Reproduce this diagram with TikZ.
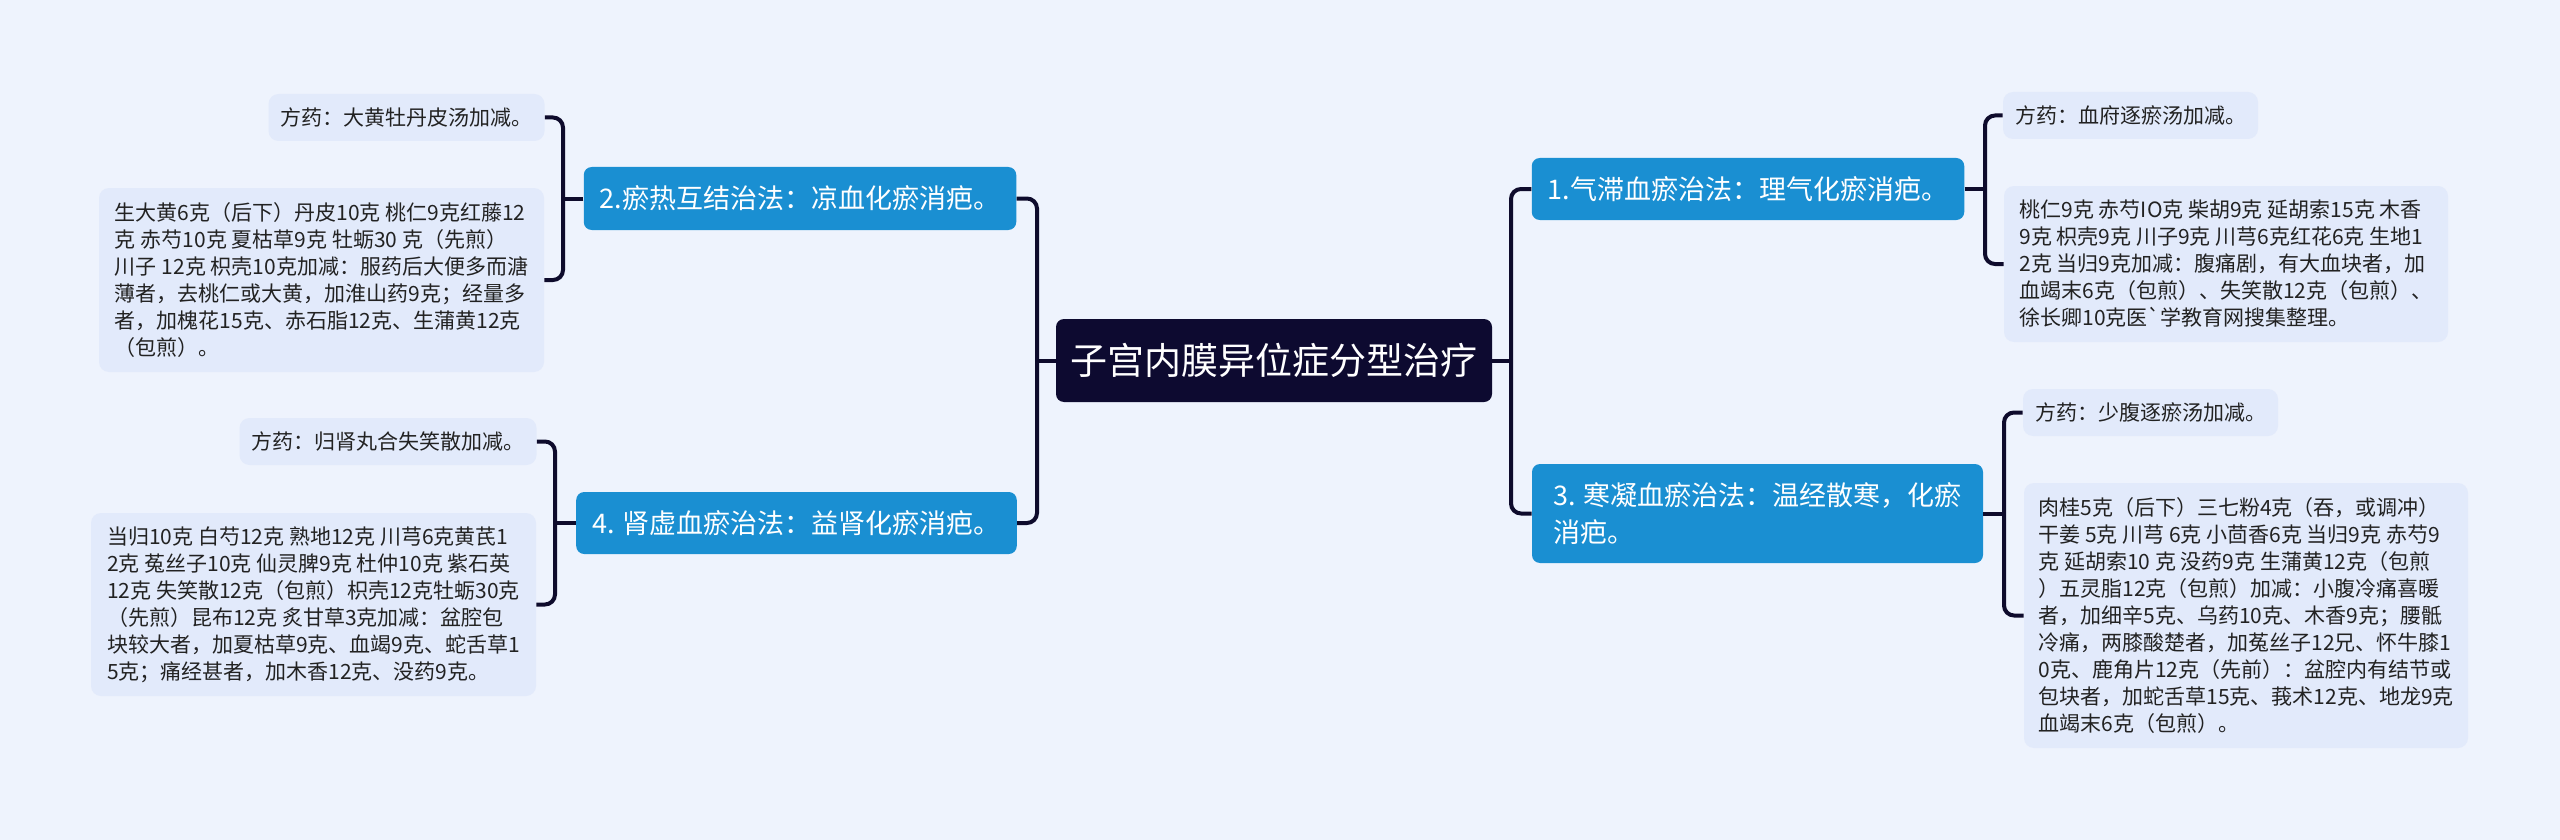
\documentclass[tikz,border=0pt]{standalone}
\usepackage{fontspec}
\setmainfont{Noto Sans CJK SC}
\definecolor{hintergrund}{HTML}{EEF3FD}
\definecolor{wurzelfarbe}{HTML}{0D0A30}
\definecolor{zweigfarbe}{HTML}{1A8FD2}
\definecolor{blattfarbe}{HTML}{E2EAFB}
\definecolor{linienfarbe}{HTML}{0E0B2C}
\definecolor{textfarbe}{HTML}{222222}
\tikzset{
	wurzelbox/.style={fill=wurzelfarbe, text=white, rounded corners=4pt, inner sep=0pt,
		font=\fontsize{18.5}{22}\selectfont},
	zweigbox/.style={fill=zweigfarbe, text=white, rounded corners=4pt, inner xsep=8pt,
		inner ysep=0pt, align=left, font=\fontsize{13.5}{18.5}\selectfont},
	blattbox/.style={fill=blattfarbe, text=textfarbe, rounded corners=5pt, inner xsep=6pt,
		inner ysep=0pt, align=left, font=\fontsize{10.5}{13.5}\selectfont},
	verbindung/.style={draw=linienfarbe, line width=2pt, rounded corners=5pt}
}
\begin{document}
\begin{tikzpicture}[x=0.5pt, y=-0.5pt]
	% Hintergrund
	\fill[hintergrund] (0,0) rectangle (2560,840);
	\useasboundingbox (0,0) rectangle (2560,840);

	% Wurzel
	\node[wurzelbox, minimum width=218pt, minimum height=41.5pt] (wurzel) at (1274,360.5)
		{子宫内膜异位症分型治疗};

	% Zweige
	\node[zweigbox, minimum width=216pt, minimum height=31.5pt] (z2) at (800,198.5)
		{2.瘀热互结治法：凉血化瘀消疤。};
	\node[zweigbox, minimum width=219.5pt, minimum height=31pt] (z4) at (796.5,523)
		{4. 肾虚血瘀治法：益肾化瘀消疤。};
	\node[zweigbox, minimum width=216pt, minimum height=31pt] (z1) at (1748,189)
		{1.气滞血瘀治法：理气化瘀消疤。};
	\node[zweigbox, minimum width=225.5pt, minimum height=49.5pt] (z3) at (1757.5,513.5)
		{3. 寒凝血瘀治法：温经散寒，化瘀\\消疤。};

	% Blaetter links
	\node[blattbox, minimum width=137.5pt, minimum height=23.5pt] (b2a) at (406.5,117.5)
		{方药：大黄牡丹皮汤加减。};
	\node[blattbox, minimum width=222.5pt, minimum height=92pt] (b2b) at (321.5,280)
		{生大黄6克（后下）丹皮10克 桃仁9克红藤12\\
		克 赤芍10克 夏枯草9克 牡蛎30 克（先煎）\\
		川子 12克 枳壳10克加减：服药后大便多而溏\\
		薄者，去桃仁或大黄，加淮山药9克；经量多\\
		者，加槐花15克、赤石脂12克、生蒲黄12克\\
		（包煎）。};
	\node[blattbox, minimum width=148pt, minimum height=23.5pt] (b4a) at (388,441.5)
		{方药：归肾丸合失笑散加减。};
	\node[blattbox, minimum width=222.5pt, minimum height=91.5pt] (b4b) at (313.5,604.5)
		{当归10克 白芍12克 熟地12克 川芎6克黄芪1\\
		2克 菟丝子10克 仙灵脾9克 杜仲10克 紫石英\\
		12克 失笑散12克（包煎）枳壳12克牡蛎30克\\
		（先煎）昆布12克 炙甘草3克加减：盆腔包\\
		块较大者，加夏枯草9克、血竭9克、蛇舌草1\\
		5克；痛经甚者，加木香12克、没药9克。};

	% Blaetter rechts
	\node[blattbox, minimum width=126.5pt, minimum height=23.5pt] (b1a) at (2130.5,115.5)
		{方药：血府逐瘀汤加减。};
	\node[blattbox, minimum width=222pt, minimum height=78pt] (b1b) at (2226,264)
		{桃仁9克 赤芍IO克 柴胡9克 延胡索15克 木香\\
		9克 枳壳9克 川子9克 川芎6克红花6克 生地1\\
		2克 当归9克加减：腹痛剧，有大血块者，加\\
		血竭末6克（包煎）、失笑散12克（包煎）、\\
		徐长卿10克医\textasciigrave{}学教育网搜集整理。};
	\node[blattbox, minimum width=126.5pt, minimum height=23.5pt] (b3a) at (2150.5,412.5)
		{方药：少腹逐瘀汤加减。};
	\node[blattbox, minimum width=222pt, minimum height=132.5pt] (b3b) at (2246,615.5)
		{肉桂5克（后下）三七粉4克（吞，或调冲）\\
		干姜 5克 川芎 6克 小茴香6克 当归9克 赤芍9\\
		克 延胡索10 克 没药9克 生蒲黄12克（包煎\\
		）五灵脂12克（包煎）加减：小腹冷痛喜暖\\
		者，加细辛5克、乌药10克、木香9克；腰骶\\
		冷痛，两膝酸楚者，加菟丝子12兄、怀牛膝1\\
		0克、鹿角片12克（先前）：盆腔内有结节或\\
		包块者，加蛇舌草15克、莪术12克、地龙9克\\
		血竭末6克（包煎）。};

	% Knotenpunkte
	\coordinate (kl) at (1037,360.5);
	\coordinate (kr) at (1511,360.5);
	\coordinate (k2) at (563,198.5);
	\coordinate (k4) at (555,523);
	\coordinate (k1) at (1985,189);
	\coordinate (k3) at (2004,513.5);

	% Verbindungen
	\draw[verbindung] (wurzel.west) -- (kl);
	\draw[verbindung] (z2.east) -| (kl) |- (z4.east);
	\draw[verbindung] (wurzel.east) -- (kr);
	\draw[verbindung] (z1.west) -| (kr) |- (z3.west);
	\draw[verbindung] (z2.west) -- (k2);
	\draw[verbindung] (b2a.east) -| (k2) |- (b2b.east);
	\draw[verbindung] (z4.west) -- (k4);
	\draw[verbindung] (b4a.east) -| (k4) |- (b4b.east);
	\draw[verbindung] (z1.east) -- (k1);
	\draw[verbindung] (b1a.west) -| (k1) |- (b1b.west);
	\draw[verbindung] (z3.east) -- (k3);
	\draw[verbindung] (b3a.west) -| (k3) |- (b3b.west);
\end{tikzpicture}
\end{document}
